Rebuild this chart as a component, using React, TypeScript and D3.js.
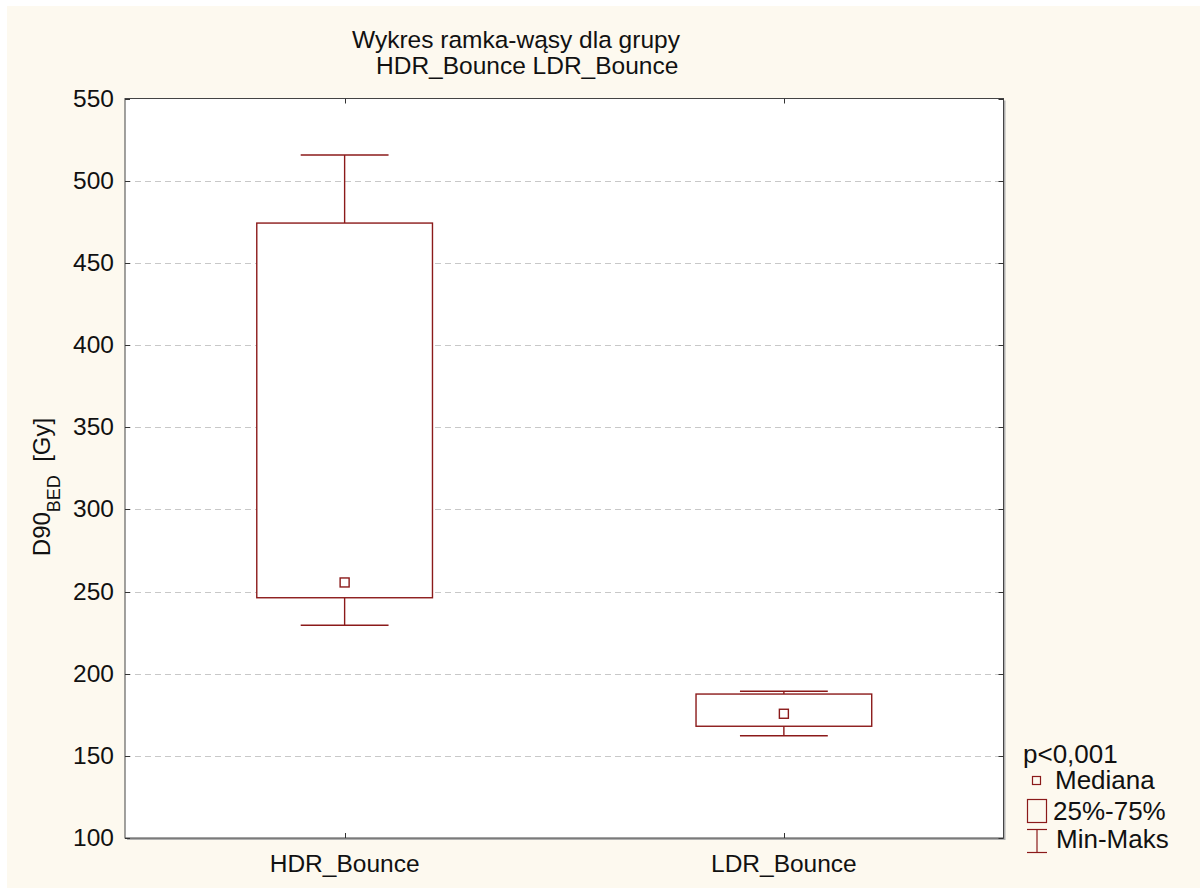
import React from "react";
import * as d3 from "d3";

// Box-whisker summary per group (Gy)
const groups = ["HDR_Bounce", "LDR_Bounce"];
const minValues = [229.5, 162.2];
const q1Values = [246.2, 168.0];
const medianValues = [255.5, 175.6];
const q3Values = [474.2, 187.6];
const maxValues = [515.6, 189.3];

const yTicks = [100, 150, 200, 250, 300, 350, 400, 450, 500, 550];
const titleLines = ["Wykres ramka-wąsy dla grupy", "HDR_Bounce LDR_Bounce"];
const legendNote = "p<0,001";
const legendLabels = ["Mediana", "25%-75%", "Min-Maks"];

const W = 1200;
const H = 888;
const plot = { left: 125, right: 1003.5, top: 98.5, bottom: 838 };
const boxColor = "#8b1a1a";
const font = "'Liberation Sans', Arial, sans-serif";

export default function App() {
  const x = d3
    .scaleBand<string>()
    .domain(groups)
    .range([plot.left, plot.right])
    .paddingInner(0)
    .paddingOuter(0);
  const y = d3.scaleLinear().domain([100, 550]).range([plot.bottom, plot.top]);

  const bw = x.bandwidth();
  const boxW = bw * 0.4;
  const capW = bw * 0.2;
  const medS = 9;

  const rows = groups.map((g, i) => ({
    g,
    cx: (x(g) as number) + bw / 2,
    min: minValues[i],
    q1: q1Values[i],
    med: medianValues[i],
    q3: q3Values[i],
    max: maxValues[i],
  }));

  return (
    <svg
      width={W}
      height={H}
      style={{ position: "absolute", left: 0, top: 0, display: "block" }}
      fontFamily={font}
    >
      <rect x={0} y={0} width={W} height={H} fill="#ffffff" />
      <rect x={7} y={6} width={W - 7} height={H - 6} fill="#fdf9ef" />

      {/* plot area with soft shadow */}
      <rect
        x={plot.left + 2}
        y={plot.top + 2}
        width={plot.right - plot.left}
        height={plot.bottom - plot.top}
        fill="#b0b0b0"
      />
      <rect
        x={plot.left}
        y={plot.top}
        width={plot.right - plot.left}
        height={plot.bottom - plot.top}
        fill="#ffffff"
        stroke="#444"
        strokeWidth={1}
      />

      {/* horizontal grid */}
      {yTicks
        .filter((t) => t !== 100 && t !== 550)
        .map((t) => (
          <line
            key={"g" + t}
            x1={plot.left}
            x2={plot.right}
            y1={Math.round(y(t)) + 0.5}
            y2={Math.round(y(t)) + 0.5}
            stroke="#c8c8c8"
            strokeWidth={1}
            strokeDasharray="6,4"
          />
        ))}

      {/* y ticks and labels */}
      {yTicks.map((t) => (
        <g key={"t" + t}>
          <line
            x1={plot.left}
            x2={plot.left + 5}
            y1={Math.round(y(t)) + 0.5}
            y2={Math.round(y(t)) + 0.5}
            stroke="#333"
          />
          <line
            x1={plot.right - 5}
            x2={plot.right}
            y1={Math.round(y(t)) + 0.5}
            y2={Math.round(y(t)) + 0.5}
            stroke="#333"
          />
          <text
            x={114}
            y={y(t) + 8}
            textAnchor="end"
            fontSize={24.5}
            fill="#111"
          >
            {t}
          </text>
        </g>
      ))}

      {/* x ticks and labels */}
      {rows.map((r) => (
        <g key={"x" + r.g}>
          <line
            x1={Math.round(r.cx) + 0.5}
            x2={Math.round(r.cx) + 0.5}
            y1={plot.bottom}
            y2={plot.bottom - 5}
            stroke="#333"
          />
          <line
            x1={Math.round(r.cx) + 0.5}
            x2={Math.round(r.cx) + 0.5}
            y1={plot.top}
            y2={plot.top + 5}
            stroke="#333"
          />
          <text
            x={r.cx}
            y={872}
            textAnchor="middle"
            fontSize={24.5}
            fill="#111"
          >
            {r.g}
          </text>
        </g>
      ))}

      {/* boxes and whiskers */}
      {rows.map((r) => (
        <g key={"b" + r.g} stroke={boxColor} strokeWidth={1.4} fill="none">
          <line x1={r.cx} x2={r.cx} y1={y(r.q3)} y2={y(r.max)} />
          <line x1={r.cx} x2={r.cx} y1={y(r.q1)} y2={y(r.min)} />
          <line
            x1={r.cx - capW / 2}
            x2={r.cx + capW / 2}
            y1={y(r.max)}
            y2={y(r.max)}
          />
          <line
            x1={r.cx - capW / 2}
            x2={r.cx + capW / 2}
            y1={y(r.min)}
            y2={y(r.min)}
          />
          <rect
            x={r.cx - boxW / 2}
            y={y(r.q3)}
            width={boxW}
            height={y(r.q1) - y(r.q3)}
            fill="#ffffff"
          />
          <rect
            x={r.cx - medS / 2}
            y={y(r.med) - medS / 2}
            width={medS}
            height={medS}
          />
        </g>
      ))}

      {/* title */}
      <text x={352} y={48} fontSize={24.5} fill="#111">
        {titleLines[0]}
      </text>
      <text x={376} y={74} fontSize={24.5} fill="#111">
        {titleLines[1]}
      </text>

      {/* y axis title */}
      <text
        transform="translate(50,487) rotate(-90)"
        textAnchor="middle"
        fontSize={24}
        fill="#111"
      >
        D90
        <tspan baselineShift="sub" fontSize={18}>
          BED
        </tspan>
        <tspan>{"\u00a0\u00a0[Gy]"}</tspan>
      </text>

      {/* legend */}
      <g fontSize={26} fill="#111">
        <text x={1023} y={763}>
          {legendNote}
        </text>
        <rect
          x={1032.5}
          y={776.5}
          width={8}
          height={8}
          fill="none"
          stroke={boxColor}
          strokeWidth={1.2}
        />
        <text x={1055} y={789}>
          {legendLabels[0]}
        </text>
        <rect
          x={1027.5}
          y={799.5}
          width={19}
          height={23}
          fill="none"
          stroke={boxColor}
          strokeWidth={1.2}
        />
        <text x={1053} y={820}>
          {legendLabels[1]}
        </text>
        <g stroke={boxColor} strokeWidth={1.2}>
          <line x1={1027} x2={1047} y1={829.5} y2={829.5} />
          <line x1={1027} x2={1047} y1={852.5} y2={852.5} />
          <line x1={1037} x2={1037} y1={829.5} y2={852.5} />
        </g>
        <text x={1056} y={848}>
          {legendLabels[2]}
        </text>
      </g>
    </svg>
  );
}
